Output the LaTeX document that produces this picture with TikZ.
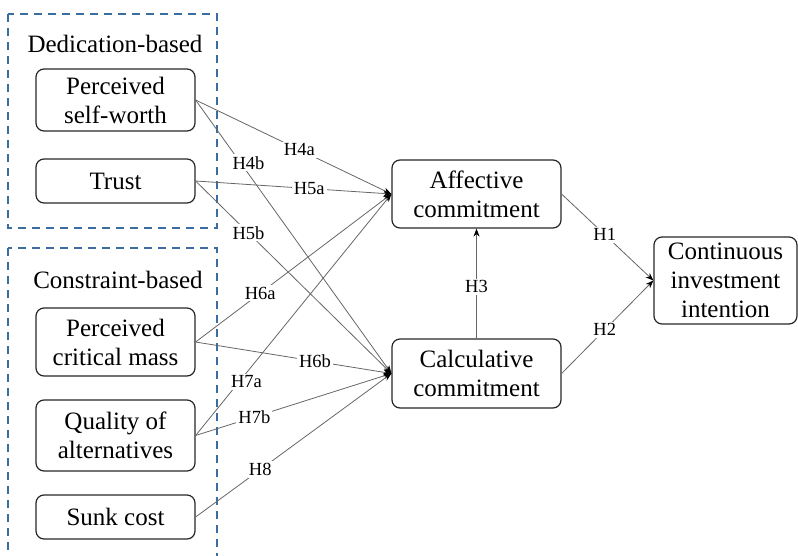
\documentclass[tikz,border=0pt]{standalone}
\usepackage{fontspec}
\setmainfont{Liberation Serif}
\usetikzlibrary{arrows.meta}
\begin{document}
\rmfamily
\begin{tikzpicture}[x=1pt,y=-1pt,
 box/.style={draw=black!85, line width=1.2pt, rounded corners=8pt, align=center, font=\rmfamily\fontsize{25}{29}\selectfont, inner sep=0pt},
 grp/.style={draw={rgb,255:red,58;green,110;blue,160}, dash pattern=on 8pt off 6pt, line width=1.6pt},
 link/.style={draw=black!60, line width=0.8pt, -{Stealth[length=8pt,width=6pt,black]}},
 lbl/.style={fill=white, font=\rmfamily\fontsize{18.5}{20}\selectfont, inner sep=2pt},
 ttl/.style={font=\rmfamily\fontsize{25}{29}\selectfont, inner sep=0pt}
]
\useasboundingbox (0,0) rectangle (798,555);
\clip (0,0) rectangle (798,555);
% groups
\draw[grp] (8,14) rectangle (217,228);
\draw[grp] (8,248) rectangle (217,580);
\node[ttl] (ded) at (115,44) {Dedication-based};
\node[ttl] (con) at (118,280) {Constraint-based};
% boxes
\node[box, minimum width=159pt, minimum height=62pt] (psw) at (115.5,100) {Perceived\\self-worth};
\node[box, minimum width=159pt, minimum height=44pt] (tru) at (115.5,181) {Trust};
\node[box, minimum width=159pt, minimum height=68pt] (pcm) at (115.5,342) {Perceived\\critical mass};
\node[box, minimum width=159pt, minimum height=71pt] (qoa) at (115.5,435.5) {Quality of\\alternatives};
\node[box, minimum width=159pt, minimum height=44pt] (snk) at (115.5,517) {Sunk cost};
\node[box, minimum width=169pt, minimum height=68pt] (aff) at (476.5,194) {Affective\\commitment};
\node[box, minimum width=169pt, minimum height=69pt] (cal) at (476.5,373.5) {Calculative\\commitment};
\node[box, minimum width=143pt, minimum height=87pt] (cii) at (725.5,280.5) {Continuous\\investment\\intention};
% links
\draw[link] (psw.east) -- (aff.west);
\draw[link] (psw.east) -- (cal.west);
\draw[link] (tru.east) -- (aff.west);
\draw[link] (tru.east) -- (cal.west);
\draw[link] (pcm.east) -- (aff.west);
\draw[link] (pcm.east) -- (cal.west);
\draw[link] (qoa.east) -- (aff.west);
\draw[link] (qoa.east) -- (cal.west);
\draw[link] (snk.east) -- (cal.west);
\draw[link] (cal.north) -- (aff.south);
\draw[link] (aff.east) -- (cii.west);
\draw[link] (cal.east) -- (cii.west);
% labels
\path (psw.east) -- (aff.west) node[lbl,pos=0.53] {H4a};
\path (psw.east) -- (cal.west) node[lbl,pos=0.27,yshift=11pt] {H4b};
\path (tru.east) -- (aff.west) node[lbl,pos=0.58] {H5a};
\path (tru.east) -- (cal.west) node[lbl,pos=0.27] {H5b};
\path (pcm.east) -- (aff.west) node[lbl,pos=0.33] {H6a};
\path (pcm.east) -- (cal.west) node[lbl,pos=0.61] {H6b};
\path (qoa.east) -- (aff.west) node[lbl,pos=0.26,yshift=-9pt] {H7a};
\path (qoa.east) -- (cal.west) node[lbl,pos=0.30] {H7b};
\path (snk.east) -- (cal.west) node[lbl,pos=0.33] {H8};
\path (cal.north) -- (aff.south) node[lbl,pos=0.47] {H3};
\path (aff.east) -- (cii.west) node[lbl,pos=0.47] {H1};
\path (cal.east) -- (cii.west) node[lbl,pos=0.47] {H2};
\end{tikzpicture}
\end{document}
